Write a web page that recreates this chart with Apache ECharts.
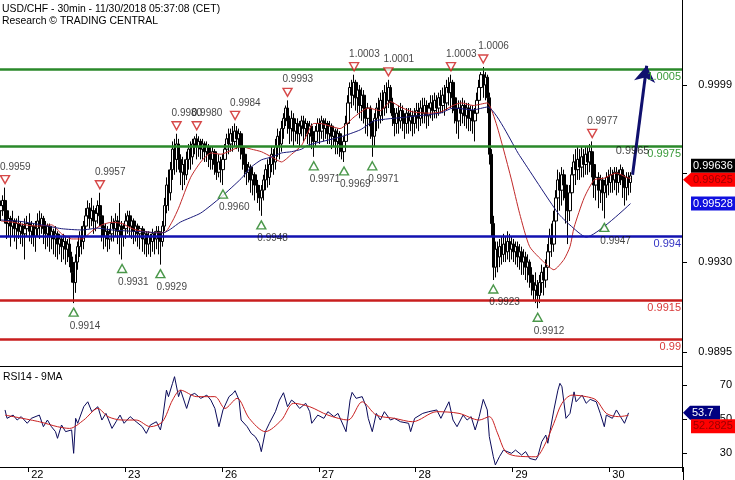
<!DOCTYPE html>
<html><head><meta charset="utf-8">
<script src="https://cdn.jsdelivr.net/npm/echarts@6/dist/echarts.min.js"></script>
<style>html,body{margin:0;padding:0;background:#fff}#c{width:735px;height:480px}</style>
</head><body><div id="c"></div>
<script>
// ---- data (prices in pips: 9950 = 0.9950) ----
const titleLines = ['USD/CHF - 30min - 11/30/2018 05:37:08 (CET)', 'Research \u00A9 TRADING CENTRAL'];
const rsiTitle = 'RSI14 - 9MA';
const categoryCount = 338;
const dayStarts = [14, 62, 110, 158, 206, 254, 302];
const dayLabels = ['22', '23', '26', '27', '28', '29', '30'];
// [open, close, low, high]
const candles = [
[9950,9952,9946,9954],[9952,9954,9948,9956],[9954,9950,9945,9959],[9950,9945,9939,9951],[9945,9947,9940,9949],
[9947,9944,9936,9948],[9944,9946,9940,9950],[9946,9943,9938,9947],[9943,9945,9935,9947],[9945,9942,9939,9948],
[9942,9944,9937,9946],[9944,9941,9936,9945],[9941,9943,9931,9947],[9943,9945,9940,9948],[9945,9942,9938,9949],
[9942,9944,9937,9946],[9944,9940,9936,9945],[9940,9943,9934,9946],[9943,9946,9940,9949],[9946,9944,9939,9950],
[9944,9947,9941,9949],[9947,9943,9937,9948],[9943,9941,9935,9946],[9941,9944,9936,9945],[9944,9940,9934,9945],
[9940,9942,9935,9944],[9942,9939,9933,9943],[9939,9941,9932,9944],[9941,9937,9931,9942],[9937,9939,9933,9941],
[9939,9936,9930,9940],[9936,9938,9931,9941],[9938,9935,9929,9940],[9935,9937,9930,9939],[9937,9932,9928,9940],
[9932,9926,9922,9934],[9926,9922,9914,9930],[9922,9930,9918,9933],[9930,9936,9927,9938],[9936,9940,9932,9942],
[9940,9938,9933,9944],[9938,9944,9935,9946],[9944,9948,9940,9951],[9948,9951,9944,9954],[9951,9947,9943,9953],
[9947,9950,9944,9955],[9950,9946,9941,9952],[9946,9949,9942,9951],[9949,9952,9945,9954],[9952,9948,9944,9957],
[9948,9944,9938,9950],[9944,9940,9935,9946],[9940,9942,9936,9945],[9942,9939,9934,9944],[9939,9941,9935,9943],
[9941,9945,9938,9948],[9945,9943,9938,9947],[9943,9946,9940,9949],[9946,9942,9937,9948],[9942,9944,9933,9953],
[9944,9940,9931,9946],[9940,9943,9936,9945],[9943,9946,9939,9949],[9946,9948,9941,9950],[9948,9944,9940,9950],
[9944,9946,9939,9948],[9946,9942,9937,9947],[9942,9944,9938,9946],[9944,9941,9936,9945],[9941,9943,9935,9944],
[9943,9939,9934,9944],[9939,9941,9933,9943],[9941,9937,9932,9942],[9937,9940,9933,9942],[9940,9938,9932,9941],
[9938,9941,9934,9943],[9941,9939,9933,9942],[9939,9942,9935,9944],[9942,9940,9933,9944],[9940,9938,9929,9942],
[9938,9944,9936,9946],[9944,9952,9942,9955],[9952,9960,9949,9963],[9960,9957,9950,9966],[9957,9966,9954,9969],
[9966,9974,9962,9977],[9974,9970,9964,9978],[9970,9976,9965,9980],[9976,9970,9966,9978],[9970,9965,9960,9972],
[9965,9968,9958,9971],[9968,9964,9960,9970],[9964,9970,9962,9973],[9970,9974,9966,9976],[9974,9971,9966,9977],
[9971,9976,9968,9978],[9976,9978,9972,9979],[9978,9975,9970,9980],[9975,9977,9971,9979],[9977,9974,9970,9978],
[9974,9976,9970,9978],[9976,9973,9969,9977],[9973,9975,9969,9977],[9975,9972,9967,9976],[9972,9970,9966,9975],
[9970,9973,9966,9975],[9973,9968,9964,9974],[9968,9965,9962,9971],[9965,9969,9963,9972],[9969,9966,9961,9971],
[9966,9970,9960,9972],[9970,9974,9968,9976],[9974,9978,9971,9980],[9978,9976,9972,9982],[9976,9980,9973,9982],
[9980,9977,9973,9983],[9977,9981,9975,9984],[9981,9978,9974,9983],[9978,9980,9973,9982],[9980,9975,9970,9981],
[9975,9972,9966,9977],[9972,9968,9963,9974],[9968,9965,9960,9970],[9965,9967,9961,9969],[9967,9962,9957,9968],
[9962,9964,9956,9966],[9964,9960,9954,9965],[9960,9957,9953,9962],[9957,9955,9950,9960],[9955,9958,9948,9960],
[9958,9962,9954,9964],[9962,9966,9958,9968],[9966,9963,9959,9970],[9963,9968,9960,9971],[9968,9972,9965,9975],
[9972,9969,9964,9974],[9969,9975,9966,9978],[9975,9979,9971,9982],[9979,9976,9970,9981],[9976,9982,9973,9985],
[9982,9986,9978,9988],[9986,9990,9983,9991],[9990,9985,9980,9993],[9985,9982,9976,9987],[9982,9986,9977,9989],
[9986,9981,9975,9988],[9981,9984,9977,9986],[9984,9980,9976,9986],[9980,9983,9975,9985],[9983,9985,9979,9987],
[9985,9982,9977,9987],[9982,9984,9978,9986],[9984,9980,9976,9985],[9980,9983,9975,9985],[9983,9979,9974,9984],
[9979,9977,9971,9981],[9977,9981,9975,9983],[9981,9984,9978,9986],[9984,9981,9976,9986],[9981,9985,9978,9987],
[9985,9982,9977,9986],[9982,9984,9978,9986],[9984,9980,9976,9985],[9980,9983,9976,9985],[9983,9979,9974,9984],
[9979,9981,9975,9983],[9981,9977,9972,9982],[9977,9980,9972,9982],[9980,9976,9971,9981],[9976,9973,9970,9978],
[9973,9977,9969,9979],[9977,9984,9975,9987],[9984,9992,9981,9995],[9992,9998,9988,10000],[9998,9995,9990,10001],
[9995,10000,9991,10003],[10000,9994,9989,10001],[9994,9997,9988,9999],[9997,9991,9986,9999],[9991,9995,9985,9998],
[9995,9990,9984,9997],[9990,9986,9980,9993],[9986,9990,9979,9992],[9990,9983,9978,9991],[9983,9979,9971,9985],
[9979,9986,9975,9988],[9986,9990,9981,9992],[9990,9987,9982,9994],[9987,9993,9984,9996],[9993,9990,9985,9997],
[9990,9996,9987,9999],[9996,9993,9988,10000],[9993,9998,9990,10001],[9998,9992,9988,9999],[9992,9987,9983,9994],
[9987,9984,9979,9990],[9984,9988,9980,9990],[9988,9985,9980,9991],[9985,9989,9982,9992],[9989,9986,9981,9991],
[9986,9984,9978,9988],[9984,9988,9980,9990],[9988,9985,9980,9990],[9985,9987,9981,9990],[9987,9984,9979,9989],
[9984,9987,9980,9990],[9987,9989,9982,9992],[9989,9986,9981,9992],[9986,9990,9983,9993],[9990,9988,9984,9994],
[9988,9991,9984,9994],[9991,9987,9982,9993],[9987,9990,9983,9992],[9990,9992,9986,9995],[9992,9989,9985,9995],
[9989,9993,9986,9996],[9993,9990,9986,9995],[9990,9994,9987,9996],[9994,9991,9988,9997],[9991,9995,9988,9998],
[9995,9992,9987,9999],[9992,9998,9989,10001],[9998,9996,9991,10002],[9996,10000,9990,10003],[10000,9994,9988,10001],
[9994,9989,9984,9996],[9989,9985,9980,9991],[9985,9990,9978,9993],[9990,9988,9983,9993],[9988,9991,9984,9994],
[9991,9987,9983,9993],[9987,9990,9982,9992],[9990,9986,9981,9992],[9986,9989,9981,9991],[9989,9985,9980,9991],
[9985,9988,9977,9990],[9988,9993,9985,9996],[9993,9998,9990,10001],[9998,10003,9995,10004],[10003,9999,9994,10006],
[9999,10002,9993,10004],[10002,9994,9988,10003],[9994,9972,9968,9996],[9972,9945,9940,9974],[9945,9928,9923,9948],
[9928,9935,9924,9938],[9935,9932,9926,9938],[9932,9936,9928,9939],[9936,9933,9929,9940],[9933,9937,9930,9941],
[9937,9934,9930,9940],[9934,9938,9931,9942],[9938,9935,9930,9941],[9935,9937,9931,9940],[9937,9934,9930,9939],
[9934,9936,9929,9938],[9936,9932,9928,9938],[9932,9934,9927,9937],[9934,9930,9925,9936],[9930,9932,9925,9935],
[9932,9928,9923,9934],[9928,9930,9922,9933],[9930,9925,9920,9931],[9925,9922,9917,9928],[9922,9919,9915,9925],
[9919,9921,9914,9926],[9921,9917,9912,9923],[9917,9922,9914,9925],[9922,9926,9918,9929],[9926,9923,9917,9928],
[9923,9928,9920,9931],[9928,9934,9925,9937],[9934,9940,9930,9943],[9940,9937,9932,9945],[9937,9946,9934,9950],
[9946,9955,9943,9958],[9955,9962,9950,9966],[9962,9958,9950,9965],[9958,9964,9952,9967],[9964,9960,9954,9966],
[9960,9955,9945,9962],[9955,9950,9937,9958],[9950,9957,9946,9960],[9957,9964,9953,9967],[9964,9969,9960,9972],
[9969,9966,9960,9974],[9966,9970,9962,9975],[9970,9967,9962,9974],[9967,9971,9963,9975],[9971,9968,9963,9974],
[9968,9972,9964,9975],[9972,9969,9964,9975],[9969,9973,9965,9976],[9973,9968,9963,9977],[9968,9960,9955,9969],
[9960,9963,9954,9966],[9963,9958,9951,9965],[9958,9962,9953,9964],[9962,9957,9950,9963],[9957,9960,9947,9962],
[9960,9963,9955,9965],[9963,9961,9956,9966],[9961,9964,9957,9967],[9964,9962,9957,9966],[9962,9965,9958,9967],
[9965,9961,9956,9967],[9961,9964,9957,9966],[9964,9966,9960,9968],[9966,9962,9955,9967],[9962,9959,9952,9964],
[9959,9963,9954,9965],[9963,9961,9956,9965],[9961,9963.6,9957,9965]
];
// moving averages: [bar, value]
const maFast = [[0,9946],[6,9945.5],[12,9944.5],[18,9944],[25,9944.5],[30,9941],[35,9939],[40,9939],[45,9942],[50,9944.5],[55,9945.5],[60,9945],[65,9943],[70,9942],[75,9941.5],[81,9941.5],[85,9946],[88,9951],[94,9963],[99,9969],[104,9972.5],[109,9972],[114,9973.5],[119,9975],[124,9974],[129,9973],[134,9971],[139,9969],[144,9972],[149,9975.5],[155,9984],[158,9984],[163,9983],[168,9982],[175,9986.5],[182,9990],[188,9989],[193,9992.5],[198,9990.4],[204,9988.5],[213,9988],[218,9988.5],[224,9991],[228,9992],[234,9991],[241,9992],[245,9985],[249,9974],[253,9962],[257,9949],[262,9936],[269,9930],[274,9927],[279,9931],[282,9936],[284,9943.5],[289,9955],[294,9962],[299,9962.7],[305,9964.7],[310,9963],[312,9962.5]];
const maSlow = [[0,9946.4],[10,9945.8],[20,9944.5],[30,9943],[40,9942.5],[48,9943.2],[55,9942.5],[65,9942],[73,9941.7],[78,9941.3],[81,9941.5],[84,9942.8],[89,9945.6],[99,9949.1],[109,9955.3],[119,9962.5],[124,9967],[129,9969.8],[134,9970.9],[139,9972.5],[144,9973],[149,9974],[152,9975.5],[168,9978.7],[178,9981.5],[185,9985],[201,9986.5],[218,9988.1],[224,9990],[234,9989.3],[241,9990.4],[257,9971.5],[276,9949.1],[282,9944.4],[290,9939.7],[312,9952.8]];
const rsi = [[2,55.4],[3,50.5],[6,52.4],[8,49.5],[10,51.5],[13,47.6],[15,50.5],[19,52.4],[21,45.6],[23,49.5],[25,45.6],[27,42.7],[28,38.8],[30,46.6],[32,42.7],[35,43.7],[36,30],[37,50.5],[38,47.6],[41,57.3],[43,60.2],[45,54.4],[48,57.3],[50,49.5],[52,53.4],[55,44.6],[57,48.5],[59,52.4],[61,47.6],[64,51.5],[67,48.5],[70,45.6],[72,41.7],[74,46.6],[77,48.5],[79,43.7],[80,49.5],[82,67],[83,63.2],[85,71],[86,74.9],[88,63.2],[89,67],[92,56.3],[94,64.1],[96,65.1],[99,62.2],[102,64.1],[104,61.2],[106,56.3],[108,45.6],[110,55.4],[113,63.2],[115,65.1],[116,66.7],[118,61.2],[119,49.5],[122,45.6],[124,41.7],[126,39.8],[128,35.9],[129,31],[131,42.7],[133,47.6],[136,54.4],[138,61.2],[140,65.5],[142,57.3],[144,61.2],[146,59.3],[148,56.3],[151,59.3],[153,54.4],[154,47.6],[157,52.4],[160,50.5],[162,54.4],[165,51.5],[167,53.4],[171,42.7],[173,61.2],[174,65.7],[176,62.2],[179,63.2],[181,57.3],[182,50.5],[184,42.7],[186,53.4],[188,49.5],[190,54.4],[193,49.5],[195,50.5],[198,48.5],[202,47.6],[203,42.7],[205,50.5],[209,53.4],[212,54.4],[216,55.4],[218,50.5],[220,55.4],[222,60.2],[224,49.5],[226,45.6],[229,52.4],[231,49.5],[233,51.5],[235,43.7],[237,51.5],[239,61.6],[241,55.4],[242,39.8],[244,28],[245,23.2],[247,28],[249,31.9],[253,30],[255,31.9],[258,29],[260,31],[262,27],[265,26.1],[266,28],[268,36.8],[270,40.7],[271,35.9],[274,55.4],[276,67],[277,71],[278,69],[280,50.5],[282,53.4],[284,66],[285,60.2],[288,64.1],[290,59.3],[292,61.6],[295,60.2],[297,53.4],[299,45.6],[300,52.4],[303,50.5],[305,55.4],[307,51.5],[309,47.6],[311,53.7]];
const rsiMa = [[2,52.4],[19,48.5],[28,45.6],[34,44.6],[41,49.5],[48,56.3],[53,51.5],[60,49.5],[67,49.5],[74,45.6],[80,48.5],[85,61.2],[89,67],[97,63.2],[106,63.2],[111,56.3],[117,62.2],[123,50.5],[131,42.7],[139,49.5],[145,59.3],[153,57.3],[162,52.4],[172,49.5],[179,60.2],[186,52.4],[195,50.5],[204,48.5],[216,54.4],[227,53.4],[237,49.5],[242,51.5],[246,42],[250,31],[255,28.5],[265,28],[269,33.9],[274,47.6],[278,59.3],[283,64.1],[290,63.2],[295,61.2],[300,53.4],[306,51.5],[311,52.28]];
const peakIdx = [2, 49, 87, 97, 116, 142, 175, 192, 223, 239, 293];
const peakVal = [9959, 9957, 9980, 9980, 9984, 9993, 10003, 10001, 10003, 10006, 9977];
const troughIdx = [36, 60, 79, 110, 129, 155, 170, 184, 244, 266, 299];
const troughVal = [9914, 9931, 9929, 9960, 9948, 9971, 9969, 9971, 9923, 9912, 9947];
const levels = [10005, 9975, 9940, 9915, 9900];
const levelLabels = ['1.0005', '0.9975', '0.994', '0.9915', '0.99'];
const arrowFrom = [313, 9964];
const arrowTo = [320, 10006.5];
const targetPoint = [313, 9965];
const targetText = '0.9965';
const priceTicks = [9895, 9930, 9964.5, 9999];
const priceTickLabels = [9895, 9930, 9999];
const rsiTicks = [30, 50, 70];
const lastClose = 9963.6, lastCloseText = '0.99636';
const lastFast = 9962.5, lastFastText = '0.99625';
const lastSlow = 9952.8, lastSlowText = '0.99528';
const lastRsi = 53.7, lastRsiText = '53.7';
const lastRsiMa = 52.2825, lastRsiMaText = '52.2825';

// ---- chart ----
const FONT = 'Liberation Sans';
const toPrice = v => (v / 10000).toFixed(4);
const cats = Array.from({length: categoryCount}, (_, i) => String(i));
const GREEN = '#2a892a', BLUE = '#1212b0', RED = '#c81e1e';
const levelColors = [GREEN, GREEN, BLUE, RED, RED];
const levelTextColors = ['#3a9a3a', '#3a9a3a', '#3434c4', '#d83a3a', '#d83a3a'];

const chart = echarts.init(document.getElementById('c'));
chart.setOption({
  animation: false,
  textStyle: {fontFamily: FONT},
  title: [
    {text: titleLines.join('\n'), left: 2, top: 3, padding: 0, textStyle: {fontSize: 10.4, fontWeight: 'normal', color: '#000', lineHeight: 12, fontFamily: FONT}},
    {text: rsiTitle, left: 3, top: 372, padding: 0, textStyle: {fontSize: 10.4, fontWeight: 'normal', color: '#000', fontFamily: FONT}}
  ],
  grid: [
    {left: 0, right: 52, top: 0, height: 366},
    {left: 0, right: 52, top: 366, height: 101}
  ],
  xAxis: [
    {type: 'category', gridIndex: 0, data: cats, boundaryGap: true,
     axisLine: {show: true, lineStyle: {color: '#000', width: 1}}, axisTick: {show: false}, axisLabel: {show: false}, splitLine: {show: false}},
    {type: 'category', gridIndex: 1, data: cats, boundaryGap: true,
     axisLine: {show: true, lineStyle: {color: '#000', width: 1}},
     axisTick: {show: true, interval: (i) => dayStarts.includes(i), length: 5, lineStyle: {color: '#000'}},
     axisLabel: {show: true, interval: (i) => dayStarts.includes(i - 4), formatter: (v, i) => dayLabels[dayStarts.indexOf(Number(v) - 4)], fontSize: 11, color: '#000', margin: 2},
     splitLine: {show: false}}
  ],
  yAxis: [
    {type: 'value', gridIndex: 0, position: 'right', min: 9889.5, max: 10032.1, splitLine: {show: false},
     axisLine: {show: true, lineStyle: {color: '#000'}},
     axisTick: {show: true, customValues: priceTicks, length: 5, lineStyle: {color: '#000'}},
     axisLabel: {show: true, customValues: priceTickLabels, formatter: v => toPrice(v), align: 'right', margin: 50, fontSize: 11, color: '#000'}},
    {type: 'value', gridIndex: 1, position: 'right', min: 22, max: 81.15, splitLine: {show: false},
     axisLine: {show: true, lineStyle: {color: '#000'}},
     axisTick: {show: true, customValues: rsiTicks, length: 5, lineStyle: {color: '#000'}},
     axisLabel: {show: true, customValues: rsiTicks, align: 'right', margin: 50, fontSize: 11, color: '#000'}}
  ],
  series: [
    {type: 'candlestick', xAxisIndex: 0, yAxisIndex: 0, data: candles, barWidth: 3,
     itemStyle: {color: '#fff', color0: '#000', borderColor: '#000', borderColor0: '#000', borderWidth: 1},
     markLine: {silent: true, symbol: 'none', animation: false, lineStyle: {width: 2.5, type: 'solid'},
       data: levels.map((v, i) => ({yAxis: v,
         lineStyle: {color: levelColors[i], width: 2.5, type: 'solid'},
         label: {show: true, position: 'insideEndBottom', formatter: levelLabels[i], color: levelTextColors[i], fontSize: 11, distance: [1, 2]}}))}},
    {type: 'line', xAxisIndex: 0, yAxisIndex: 0, data: maFast, showSymbol: false, smooth: 0.2,
     lineStyle: {color: '#c02828', width: 1}, z: 3},
    {type: 'line', xAxisIndex: 0, yAxisIndex: 0, data: maSlow, showSymbol: false, smooth: 0.2,
     lineStyle: {color: '#1a1a7a', width: 1}, z: 3},
    {type: 'line', xAxisIndex: 0, yAxisIndex: 0, data: [], z: 4, itemStyle: {color: '#10106e'},
     markLine: {silent: true, symbol: ['none', 'arrow'], symbolSize: 16, animation: false,
       itemStyle: {color: '#10106e'},
       lineStyle: {color: '#10106e', width: 3, type: 'solid'}, label: {show: false},
       data: [[{coord: arrowFrom, symbol: 'none'}, {coord: arrowTo, symbol: 'arrow', symbolSize: 16}]]}},
    {type: 'scatter', xAxisIndex: 0, yAxisIndex: 0, z: 5,
     data: peakIdx.map((x, i) => [x, peakVal[i]]),
     symbol: 'path://M0,0L10,0L5,8Z', symbolSize: [9, 8], symbolOffset: [0, -8],
     itemStyle: {color: '#fff', borderColor: '#cc1a1a', borderWidth: 1.4},
     label: {show: true, position: 'top', distance: 3, align: 'left', offset: [-5, 0], formatter: p => toPrice(p.value[1]), color: '#111', fontSize: 10}},
    {type: 'scatter', xAxisIndex: 0, yAxisIndex: 0, z: 5,
     data: troughIdx.map((x, i) => [x, troughVal[i]]),
     symbol: 'triangle', symbolSize: [9, 8], symbolOffset: [0, 9],
     itemStyle: {color: '#fff', borderColor: '#1d7d1d', borderWidth: 1.4},
     label: {show: true, position: 'bottom', distance: 4, align: 'left', offset: [-4, 0], formatter: p => toPrice(p.value[1]), color: '#111', fontSize: 10}},
    {type: 'scatter', xAxisIndex: 0, yAxisIndex: 0, z: 5, data: [targetPoint], symbolSize: 0,
     label: {show: true, position: 'top', distance: 16, formatter: targetText, color: '#111', fontSize: 11}},
    {type: 'line', xAxisIndex: 1, yAxisIndex: 1, data: rsi, showSymbol: false,
     lineStyle: {color: '#0a0a5a', width: 1}},
    {type: 'line', xAxisIndex: 1, yAxisIndex: 1, data: rsiMa, showSymbol: false, smooth: 0.3,
     lineStyle: {color: '#c82020', width: 1}}
  ]
});

const yP = v => chart.convertToPixel({yAxisIndex: 0}, v);
const yR = v => chart.convertToPixel({yAxisIndex: 1}, v);
function tag(yc, text, bg, fg, pointed, x0, w) {
  const els = [];
  if (pointed) {
    els.push({type: 'polygon', z: 100, shape: {points: [[683, yc], [x0, yc - 7], [x0 + w, yc - 7], [x0 + w, yc + 7], [x0, yc + 7]]}, style: {fill: bg}});
  } else {
    els.push({type: 'rect', z: 100, shape: {x: x0, y: yc - 7, width: w, height: 14}, style: {fill: bg}});
  }
  els.push({type: 'text', z: 101, x: x0 + 2, y: yc, style: {text: text, fill: fg, font: '11px "Liberation Sans"', verticalAlign: 'middle', align: 'left'}});
  return els;
}
chart.setOption({graphic: [].concat(
  tag(yP(lastClose) - 10, lastCloseText, '#000', '#fff', false, 691, 44),
  tag(yP(lastFast) + 1, lastFastText, '#ff0000', '#9a0000', true, 691, 44),
  tag(yP(lastSlow), lastSlowText, '#1010e0', '#fff', false, 691, 44),
  tag(yR(lastRsi), lastRsiText, '#000080', '#fff', true, 690, 30),
  tag(yR(lastRsiMa) + 11, lastRsiMaText, '#ff0000', '#9a0000', false, 691, 44),
  [{type: 'line', z: 100, shape: {x1: 683.5, y1: 467, x2: 683.5, y2: 480}, style: {stroke: '#000', lineWidth: 1}}]
)});
</script></body></html>
